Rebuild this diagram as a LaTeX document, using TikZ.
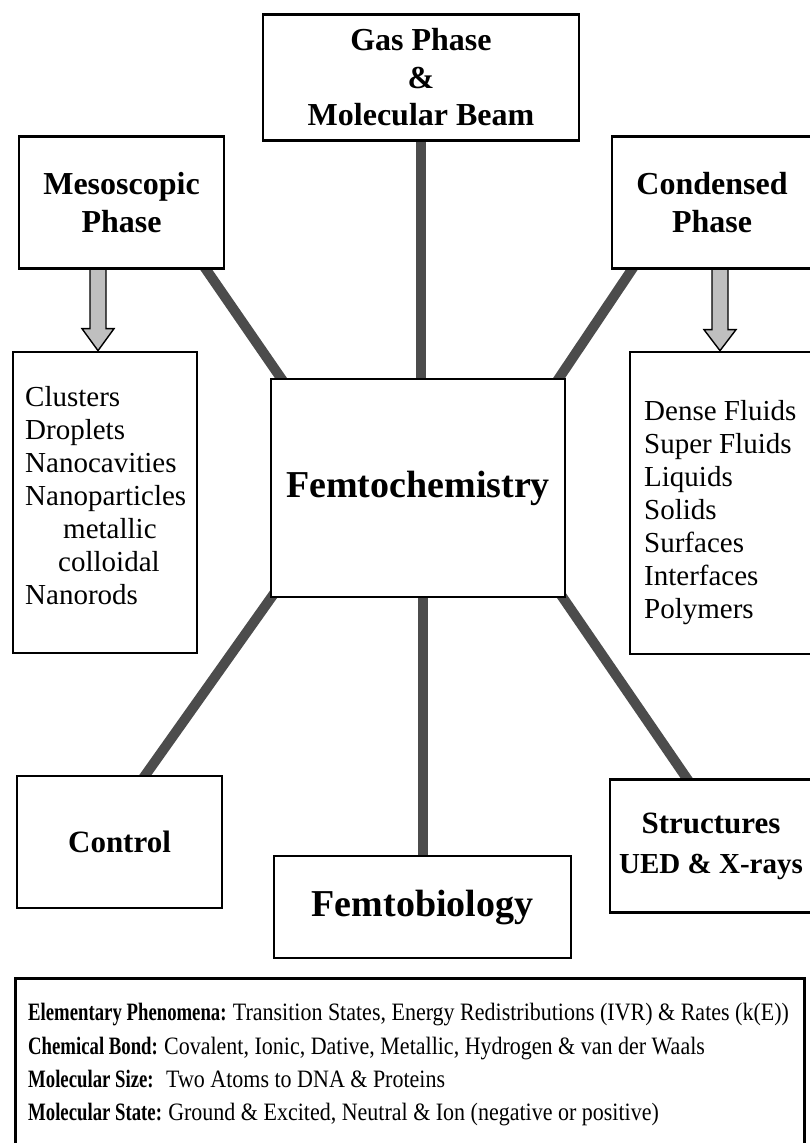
\documentclass[tikz,border=0pt]{standalone}
\usepackage{fontspec}
\setmainfont{Liberation Serif}
\usetikzlibrary{calc}
\pgfdeclarelayer{bg}
\pgfsetlayers{bg,main}
\newcommand{\blab}[1]{\scalebox{0.75}[1]{\textbf{#1}}}
\newcommand{\rtxt}[1]{\scalebox{0.88}[1]{#1}}
\begin{document}
\begin{tikzpicture}[x=1pt,y=-1pt,
  box/.style={draw, fill=white, line width=2.7pt, inner sep=0pt, align=center,
    font=\bfseries\fontsize{32}{37.5}\selectfont},
  conn/.style={line width=10pt, draw=black!70},
  barrow/.style={draw, line width=1.4pt, fill=black!25, line join=miter},
  listtxt/.style={inner sep=0pt, anchor=north west, align=left,
    font=\fontsize{29}{33}\selectfont},
  infotxt/.style={inner sep=0pt, anchor=base west, font=\fontsize{25}{29}\selectfont},
]
\useasboundingbox (0,0) rectangle (809,1143);

% boxes
\node[box, minimum width=316pt, minimum height=126pt] (gas) at (421,77.5)
  {Gas Phase\\\&\\Molecular Beam};
\node[box, minimum width=205pt, minimum height=132pt] (meso) at (121.5,202.5)
  {Mesoscopic\\Phase};
\node[box, minimum width=200pt, minimum height=132pt] (cond) at (712,202.5)
  {Condensed\\Phase};
\node[box, minimum width=294pt, minimum height=218pt,
  font=\bfseries\fontsize{38}{44}\selectfont] (femto) at (418,488) {Femtochemistry};
\node[box, minimum width=184pt, minimum height=301pt] (clus) at (105,502.5) {};
\node[box, minimum width=182pt, minimum height=302pt] (liq) at (721,503) {};
\node[box, minimum width=205pt, minimum height=132pt,
  font=\bfseries\fontsize{31}{36}\selectfont] (ctrl) at (119.5,842) {Control};
\node[box, minimum width=297pt, minimum height=102pt,
  font=\bfseries\fontsize{38}{44}\selectfont] (fbio) at (422.5,907) {Femtobiology};
\node[box, minimum width=202pt, minimum height=133pt,
  font=\bfseries\fontsize{31}{40}\selectfont] (struct) at (711,846)
  {Structures\\{\fontsize{29}{40}\selectfont UED \& X-rays}};
\node[box, minimum width=789pt, minimum height=180pt, anchor=north west] (info) at (14,977) {};

% list texts
\node[listtxt] (clustxt) at (25,386)
  {Clusters\\Droplets\\Nanocavities\\Nanoparticles\\\hspace*{38pt}metallic\\\hspace*{33pt}colloidal\\Nanorods};
\node[listtxt] (liqtxt) at (644,400)
  {Dense Fluids\\Super Fluids\\Liquids\\Solids\\Surfaces\\Interfaces\\Polymers};

% info lines
\node[infotxt] (l1) at (28,1020) {\blab{Elementary Phenomena:}\ \rtxt{Transition States, Energy Redistributions (IVR) \& Rates (k(E))}};
\node[infotxt] (l2) at (28,1054) {\blab{Chemical Bond:}\ \rtxt{Covalent, Ionic, Dative, Metallic, Hydrogen \& van der Waals}};
\node[infotxt] (l3) at (28,1087) {\blab{Molecular Size:}\ \ \rtxt{Two Atoms to DNA \& Proteins}};
\node[infotxt] (l4) at (28,1120) {\blab{Molecular State:}\ \rtxt{Ground \& Excited, Neutral \& Ion (negative or positive)}};

% arrow anchor points
\coordinate (ma) at ([xshift=-23.5pt]meso.south);
\coordinate (mb) at ([xshift=-7pt]clus.north);
\coordinate (ca) at ([xshift=8pt]cond.south);
\coordinate (cb) at ([xshift=-1pt]liq.north);

\begin{pgfonlayer}{bg}
  \fill[white] (0,0) rectangle (809,1143);
  % connectors
  \draw[conn] (gas.south) -- (femto.north -| gas.south);
  \draw[conn] (fbio.north) -- (femto.south -| fbio.north);
  \draw[conn] ($([xshift=-19pt]meso.south east)!-8pt!([xshift=11pt]femto.north west)$)
           -- ($([xshift=11pt]femto.north west)!-8pt!([xshift=-19pt]meso.south east)$);
  \draw[conn] ($([xshift=21pt]cond.south west)!-8pt!([xshift=-7pt]femto.north east)$)
           -- ($([xshift=-7pt]femto.north east)!-8pt!([xshift=21pt]cond.south west)$);
  \draw[conn] ($([xshift=1pt]femto.south west)!-8pt!([xshift=130pt]ctrl.north west)$)
           -- ($([xshift=130pt]ctrl.north west)!-8pt!([xshift=1pt]femto.south west)$);
  \draw[conn] ($([xshift=-3pt]femto.south east)!-8pt!([xshift=78pt]struct.north west)$)
           -- ($([xshift=78pt]struct.north west)!-8pt!([xshift=-3pt]femto.south east)$);
  % block arrows
  \draw[barrow] ($(ma)+(-8,-4)$) -- ($(mb)+(-8,-22)$) -- ($(mb)+(-16,-22)$) -- (mb)
     -- ($(mb)+(16,-22)$) -- ($(mb)+(8,-22)$) -- ($(ma)+(8,-4)$) -- cycle;
  \draw[barrow] ($(ca)+(-8,-4)$) -- ($(cb)+(-8,-21)$) -- ($(cb)+(-16,-21)$) -- (cb)
     -- ($(cb)+(16,-21)$) -- ($(cb)+(8,-21)$) -- ($(ca)+(8,-4)$) -- cycle;
\end{pgfonlayer}
\end{tikzpicture}
\end{document}
